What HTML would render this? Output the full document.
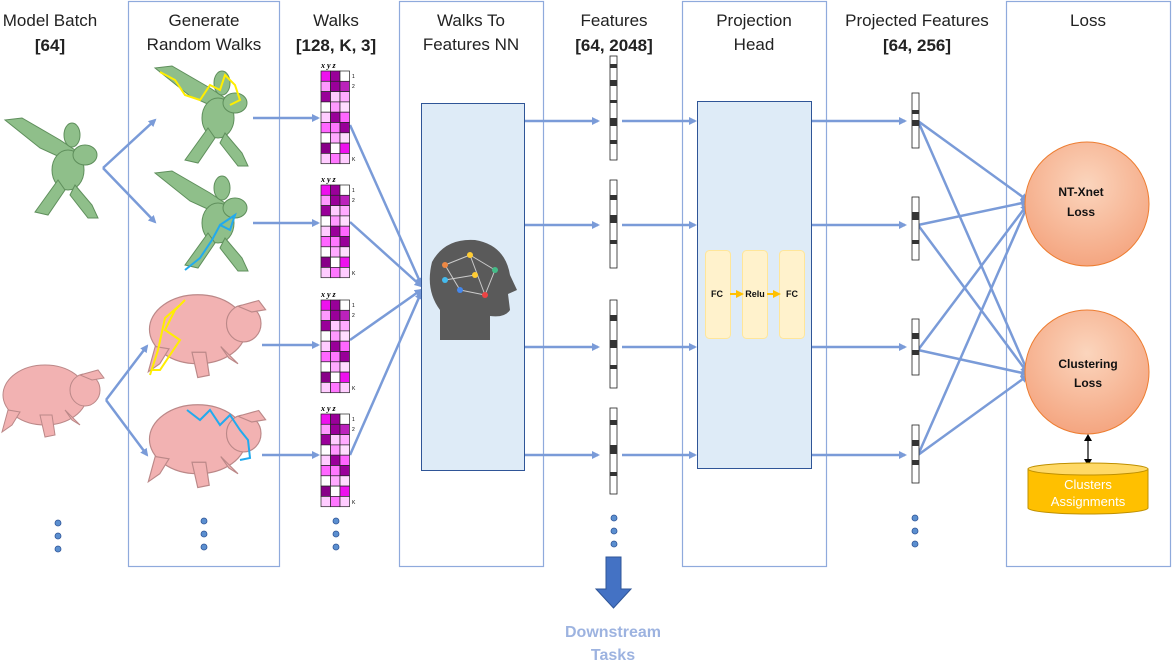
<!DOCTYPE html>
<html><head><meta charset="utf-8"><style>
html,body{margin:0;padding:0;background:#fff;}
svg{display:block;font-family:"Liberation Sans",sans-serif;}
</style></head><body>
<svg width="1172" height="663" viewBox="0 0 1172 663" xmlns="http://www.w3.org/2000/svg">
<defs>
<marker id="ar" markerWidth="8" markerHeight="8" refX="6" refY="4" orient="auto" markerUnits="userSpaceOnUse"><path d="M0,0 L8,4 L0,8 z" fill="#7a9bd8"/></marker>
<marker id="ay" markerWidth="8" markerHeight="8" refX="6" refY="4" orient="auto" markerUnits="userSpaceOnUse"><path d="M0,0 L8,4 L0,8 z" fill="#ffc000"/></marker>
<radialGradient id="cg" cx="0.5" cy="0.35" r="0.7"><stop offset="0" stop-color="#fbd5bd"/><stop offset="1" stop-color="#f4a27c"/></radialGradient>
<g id="gor">
 <path d="M5,120 L22,118 L60,140 L75,150 L62,158 L40,148 Z" fill="#8fbf8a" stroke="#5f8f5c" stroke-width="1"/>
 <ellipse cx="72" cy="135" rx="8" ry="12" fill="#8fbf8a" stroke="#5f8f5c"/>
 <ellipse cx="68" cy="170" rx="16" ry="20" fill="#8fbf8a" stroke="#5f8f5c"/>
 <ellipse cx="85" cy="155" rx="12" ry="10" fill="#8fbf8a" stroke="#5f8f5c"/>
 <path d="M58,180 L35,212 L48,215 L65,190 Z M75,185 L92,205 L98,218 L88,218 L70,195 Z" fill="#8fbf8a" stroke="#5f8f5c"/>
</g>
<g id="rab">
 <ellipse cx="45" cy="395" rx="42" ry="30" fill="#f2b2b2" stroke="#b88" stroke-width="1"/>
 <ellipse cx="85" cy="390" rx="15" ry="16" fill="#f2b2b2" stroke="#b88"/>
 <path d="M80,375 L98,370 L104,378 L92,380 Z" fill="#f2b2b2" stroke="#b88"/>
 <path d="M8,410 L2,432 L12,425 L20,412 Z M40,415 L45,437 L55,435 L52,415 Z M65,410 L80,425 L72,420 Z" fill="#f2b2b2" stroke="#b88"/>
</g>
<g id="mat">
 <g stroke="#222" stroke-width="0.7">
 <rect x="0" y="0" width="9.5" height="10.3" fill="#ee11ee"/><rect x="9.5" y="0" width="9.5" height="10.3" fill="#990099"/><rect x="19" y="0" width="9.5" height="10.3" fill="#fff"/>
 <rect x="0" y="10.3" width="9.5" height="10.3" fill="#ff99ff"/><rect x="9.5" y="10.3" width="9.5" height="10.3" fill="#990099"/><rect x="19" y="10.3" width="9.5" height="10.3" fill="#bb22bb"/>
 <rect x="0" y="20.6" width="9.5" height="10.3" fill="#990099"/><rect x="9.5" y="20.6" width="9.5" height="10.3" fill="#ffccff"/><rect x="19" y="20.6" width="9.5" height="10.3" fill="#ffaaff"/>
 <rect x="0" y="30.9" width="9.5" height="10.3" fill="#fff"/><rect x="9.5" y="30.9" width="9.5" height="10.3" fill="#ff99ff"/><rect x="19" y="30.9" width="9.5" height="10.3" fill="#ffddff"/>
 <rect x="0" y="41.2" width="9.5" height="10.3" fill="#ffccff"/><rect x="9.5" y="41.2" width="9.5" height="10.3" fill="#990099"/><rect x="19" y="41.2" width="9.5" height="10.3" fill="#ff66ff"/>
 <rect x="0" y="51.5" width="9.5" height="10.3" fill="#ff66ff"/><rect x="9.5" y="51.5" width="9.5" height="10.3" fill="#ff77ff"/><rect x="19" y="51.5" width="9.5" height="10.3" fill="#990099"/>
 <rect x="0" y="61.8" width="9.5" height="10.3" fill="#fff"/><rect x="9.5" y="61.8" width="9.5" height="10.3" fill="#ffaaff"/><rect x="19" y="61.8" width="9.5" height="10.3" fill="#ffddff"/>
 <rect x="0" y="72.1" width="9.5" height="10.3" fill="#880088"/><rect x="9.5" y="72.1" width="9.5" height="10.3" fill="#fff"/><rect x="19" y="72.1" width="9.5" height="10.3" fill="#ee11ee"/>
 <rect x="0" y="82.4" width="9.5" height="10.3" fill="#ffccff"/><rect x="9.5" y="82.4" width="9.5" height="10.3" fill="#ff77ff"/><rect x="19" y="82.4" width="9.5" height="10.3" fill="#ffccff"/>
 </g>
 <text x="0" y="-3" font-size="8" font-style="italic" font-weight="bold" font-family="Liberation Serif,serif">x  y  z</text>
 <text x="31" y="7" font-size="5">1</text><text x="31" y="17" font-size="5">2</text><text x="31" y="90" font-size="5">K</text>
</g>
</defs>

<g fill="none" stroke="#8faadc" stroke-width="1.2">
<rect x="128.5" y="1.5" width="151" height="565"/>
<rect x="399.5" y="1.5" width="144" height="565"/>
<rect x="682.5" y="1.5" width="144" height="565"/>
<rect x="1006.5" y="1.5" width="164" height="565"/>
</g>

<g font-size="17" fill="#222" text-anchor="middle">
<text x="50" y="26">Model Batch</text><text x="50" y="51" font-weight="bold">[64]</text>
<text x="204" y="26">Generate</text><text x="204" y="50">Random Walks</text>
<text x="336" y="26">Walks</text><text x="336" y="51" font-weight="bold">[128, K, 3]</text>
<text x="471" y="26">Walks To</text><text x="471" y="50">Features NN</text>
<text x="614" y="26">Features</text><text x="614" y="51" font-weight="bold">[64, 2048]</text>
<text x="754" y="26">Projection</text><text x="754" y="50">Head</text>
<text x="917" y="26">Projected Features</text><text x="917" y="51" font-weight="bold">[64, 256]</text>
<text x="1088" y="26">Loss</text>
</g>

<use href="#gor" x="0" y="0"/>
<use href="#gor" x="150" y="-52"/>
<use href="#gor" x="150" y="53"/>
<polyline points="160,72 175,80 185,95 200,100 210,85 220,90 225,75 235,85 240,100 230,105" fill="none" stroke="#ffee00" stroke-width="2"/>
<polyline points="185,270 200,258 212,240 220,225 230,230 235,215 220,225" fill="none" stroke="#22aaee" stroke-width="2"/>
<use href="#rab" x="0" y="0"/>
<g transform="translate(146,-125) scale(1.15)"><use href="#rab"/></g>
<g transform="translate(146,-15) scale(1.15)"><use href="#rab"/></g>
<polyline points="150,375 158,350 165,318 180,305 185,300 175,310 165,330 180,340 160,370 152,370" fill="none" stroke="#ffee00" stroke-width="2"/>
<polyline points="187,410 200,420 210,410 220,425 230,415 240,430 248,440 250,458 240,460" fill="none" stroke="#22aaee" stroke-width="2"/>

<g stroke="#7a9bd8" stroke-width="2.5" fill="none" marker-end="url(#ar)">
<path d="M103,168 L155,120"/><path d="M103,168 L155,222"/>
<path d="M106,400 L147,346"/><path d="M106,400 L147,455"/>
<path d="M253,118 L318,118"/><path d="M253,223 L318,223"/><path d="M262,345 L318,345"/><path d="M262,455 L318,455"/>
<path d="M350,125 L421,284"/><path d="M350,222 L421,286"/><path d="M350,340 L421,290"/><path d="M350,455 L421,293"/>
<path d="M524,121 L598,121"/><path d="M524,225 L598,225"/><path d="M524,347 L598,347"/><path d="M524,455 L598,455"/>
<path d="M622,121 L695,121"/><path d="M622,225 L695,225"/><path d="M622,347 L695,347"/><path d="M622,455 L695,455"/>
<path d="M811,121 L905,121"/><path d="M811,225 L905,225"/><path d="M811,347 L905,347"/><path d="M811,455 L905,455"/>
<path d="M918,121 L1027,200"/><path d="M918,121 L1027,370"/>
<path d="M918,225 L1027,202"/><path d="M918,225 L1027,372"/>
<path d="M918,350 L1027,205"/><path d="M918,350 L1027,374"/>
<path d="M918,455 L1027,207"/><path d="M918,455 L1027,376"/>
</g>

<use href="#mat" x="321" y="71"/>
<use href="#mat" x="321" y="185"/>
<use href="#mat" x="321" y="300"/>
<use href="#mat" x="321" y="414"/>

<rect x="421.5" y="103.5" width="103" height="367" fill="#deebf7" stroke="#2f5597" stroke-width="1"/>
<path d="M440,340 L440,310 Q425,290 432,262 Q445,238 475,240 Q505,245 510,275 L517,290 L508,294 L510,310 Q505,318 490,316 L490,340 Z" fill="#5a5a5a"/>
<g stroke="#ccc" stroke-width="1">
<line x1="445" y1="265" x2="470" y2="255"/><line x1="470" y1="255" x2="495" y2="270"/><line x1="445" y1="265" x2="460" y2="290"/><line x1="460" y1="290" x2="485" y2="295"/><line x1="485" y1="295" x2="495" y2="270"/><line x1="470" y1="255" x2="485" y2="295"/><line x1="445" y1="280" x2="475" y2="275"/>
</g>
<g><circle cx="445" cy="265" r="3" fill="#e84"/><circle cx="470" cy="255" r="3" fill="#fc3"/><circle cx="495" cy="270" r="3" fill="#4b8"/><circle cx="460" cy="290" r="3" fill="#48e"/><circle cx="485" cy="295" r="3" fill="#e44"/><circle cx="475" cy="275" r="3" fill="#fc3"/><circle cx="445" cy="280" r="3" fill="#4be"/></g>

<g stroke="#222" stroke-width="0.8">
<rect x="610" y="56" width="7" height="104" fill="#fff"/>
<rect x="610" y="180" width="7" height="88" fill="#fff"/>
<rect x="610" y="300" width="7" height="88" fill="#fff"/>
<rect x="610" y="408" width="7" height="86" fill="#fff"/>
<rect x="912" y="93" width="7" height="55" fill="#fff"/>
<rect x="912" y="197" width="7" height="63" fill="#fff"/>
<rect x="912" y="319" width="7" height="56" fill="#fff"/>
<rect x="912" y="425" width="7" height="58" fill="#fff"/>
</g>
<g fill="#333">
<rect x="610" y="64" width="7" height="4"/><rect x="610" y="80" width="7" height="6"/><rect x="610" y="100" width="7" height="3"/><rect x="610" y="118" width="7" height="8"/><rect x="610" y="140" width="7" height="4"/>
<rect x="610" y="195" width="7" height="5"/><rect x="610" y="215" width="7" height="8"/><rect x="610" y="240" width="7" height="4"/>
<rect x="610" y="315" width="7" height="6"/><rect x="610" y="340" width="7" height="8"/><rect x="610" y="365" width="7" height="4"/>
<rect x="610" y="420" width="7" height="5"/><rect x="610" y="445" width="7" height="9"/><rect x="610" y="472" width="7" height="4"/>
<rect x="912" y="110" width="7" height="4"/><rect x="912" y="120" width="7" height="6"/><rect x="912" y="212" width="7" height="8"/><rect x="912" y="240" width="7" height="4"/>
<rect x="912" y="333" width="7" height="6"/><rect x="912" y="350" width="7" height="5"/><rect x="912" y="440" width="7" height="6"/><rect x="912" y="460" width="7" height="5"/>
</g>

<rect x="697.5" y="101.5" width="114" height="367" fill="#deebf7" stroke="#2f5597" stroke-width="1"/>
<g fill="#fff2cc" stroke="#ffe699" stroke-width="1">
<rect x="705.5" y="250.5" width="25" height="88" rx="4"/>
<rect x="742.5" y="250.5" width="25" height="88" rx="4"/>
<rect x="779.5" y="250.5" width="25" height="88" rx="4"/>
</g>
<g stroke="#ffc000" stroke-width="2" marker-end="url(#ay)"><line x1="730" y1="294" x2="742" y2="294"/><line x1="767" y1="294" x2="779" y2="294"/></g>
<g font-size="9" font-weight="bold" text-anchor="middle" fill="#111">
<text x="717" y="297">FC</text><text x="755" y="297">Relu</text><text x="792" y="297">FC</text>
</g>

<circle cx="1087" cy="204" r="62" fill="url(#cg)" stroke="#ed7d31" stroke-width="1"/>
<circle cx="1087" cy="372" r="62" fill="url(#cg)" stroke="#ed7d31" stroke-width="1"/>
<g font-size="12" font-weight="bold" text-anchor="middle" fill="#111">
<text x="1081" y="196">NT-Xnet</text><text x="1081" y="216">Loss</text>
<text x="1088" y="368">Clustering</text><text x="1088" y="387">Loss</text>
</g>
<g stroke="#000" stroke-width="1.2"><line x1="1088" y1="438" x2="1088" y2="462"/></g>
<path d="M1084,441 L1088,434 L1092,441 Z M1084,459 L1088,466 L1092,459 Z" fill="#000"/>
<path d="M1028,469 L1028,508 A60,6 0 0 0 1148,508 L1148,469 Z" fill="#ffc000" stroke="#bf9000"/>
<ellipse cx="1088" cy="469" rx="60" ry="6" fill="#ffd966" stroke="#bf9000"/>
<g font-size="13" fill="#fff" text-anchor="middle"><text x="1088" y="489">Clusters</text><text x="1088" y="506">Assignments</text></g>

<g fill="#5b8fd0" stroke="#2f5597" stroke-width="0.8">
<circle cx="58" cy="523" r="3"/><circle cx="58" cy="536" r="3"/><circle cx="58" cy="549" r="3"/>
<circle cx="204" cy="521" r="3"/><circle cx="204" cy="534" r="3"/><circle cx="204" cy="547" r="3"/>
<circle cx="336" cy="521" r="3"/><circle cx="336" cy="534" r="3"/><circle cx="336" cy="547" r="3"/>
<circle cx="614" cy="518" r="3"/><circle cx="614" cy="531" r="3"/><circle cx="614" cy="544" r="3"/>
<circle cx="915" cy="518" r="3"/><circle cx="915" cy="531" r="3"/><circle cx="915" cy="544" r="3"/>
</g>

<path d="M606,557 L621,557 L621,589 L631,589 L613.5,608 L596,589 L606,589 Z" fill="#4472c4" stroke="#2f5597"/>
<g font-size="16" font-weight="bold" fill="#9db3e0" text-anchor="middle"><text x="613" y="637">Downstream</text><text x="613" y="660">Tasks</text></g>
</svg>
</body></html>
